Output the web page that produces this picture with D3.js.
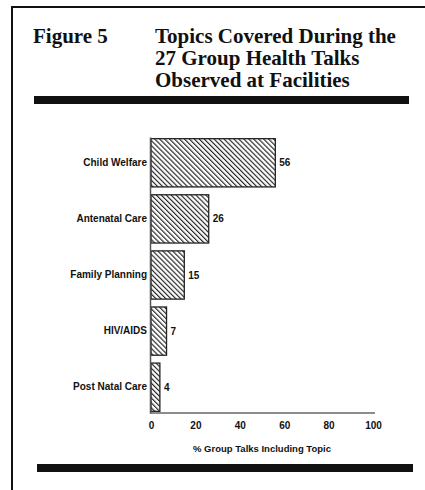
<!DOCTYPE html>
<html>
<head>
<meta charset="utf-8">
<script src="https://cdn.jsdelivr.net/npm/d3@7"></script>
<style>
  body { margin: 0; background: #fff; }
  .title { font-family: "Liberation Serif", "Times New Roman", serif; font-weight: bold; font-size: 21px; fill: #111; }
  .lbl { font-family: "Liberation Sans", Arial, sans-serif; font-weight: bold; font-size: 10px; fill: #111; }
  .axis text { font-family: "Liberation Sans", Arial, sans-serif; font-weight: bold; font-size: 10px; fill: #111; }
</style>
</head>
<body>
<div id="chart"></div>
<script>
// data
let topics = ["Child Welfare", "Antenatal Care", "Family Planning", "HIV/AIDS", "Post Natal Care"]
let percents = [56, 26, 15, 7, 4]
let xTicks = [0, 20, 40, 60, 80, 100]
let titleLines = ["Topics Covered During the", "27 Group Health Talks", "Observed at Facilities"]
let xLabel = "% Group Talks Including Topic"

let data = topics.map(function(t, i) { return {key: t, value: percents[i]} })

let W = 425, H = 490
let svg = d3.select("#chart").append("svg")
  .attr("width", W)
  .attr("height", H)

// hatch pattern
let pat = svg.append("defs").append("pattern")
  .attr("id", "hatch")
  .attr("patternUnits", "userSpaceOnUse")
  .attr("width", 3.5)
  .attr("height", 3.5)
  .attr("patternTransform", "rotate(-45)")
pat.append("rect").attr("width", 3.5).attr("height", 3.5).attr("fill", "#fff")
pat.append("line")
  .attr("x1", 0).attr("y1", 0).attr("x2", 0).attr("y2", 3.5)
  .attr("stroke", "#222").attr("stroke-width", 2.3)

// frame (only top + left visible in the scan)
svg.append("path")
  .attr("d", "M12,490 L12,7 L425,7")
  .attr("fill", "none")
  .attr("stroke", "#111")
  .attr("stroke-width", 2)

// heading
svg.append("text").attr("class", "title")
  .attr("x", 33).attr("y", 43)
  .text("Figure 5")
svg.selectAll(".tline").data(titleLines).enter().append("text")
  .attr("class", "title tline")
  .attr("x", 155)
  .attr("y", function(d, i) { return 43 + i * 22 })
  .text(function(d) { return d })

// thick rules
svg.append("rect").attr("x", 34).attr("y", 96).attr("width", 375).attr("height", 8).attr("fill", "#111")
svg.append("rect").attr("x", 37).attr("y", 464).attr("width", 376).attr("height", 8).attr("fill", "#111")

// SCALES
let xScale = d3.scaleLinear()
  .domain([0, 100])
  .range([151, 373])

let yScale = d3.scaleBand()
  .domain(topics)
  .range([137, 413])
  .paddingInner(0.14)
  .paddingOuter(0.03)

// bars
svg.selectAll(".bar")
  .data(data)
  .enter().append("rect")
  .attr("class", "bar")
  .attr("x", xScale(0))
  .attr("y", function(d) { return yScale(d.key) })
  .attr("width", function(d) { return xScale(d.value) - xScale(0) })
  .attr("height", yScale.bandwidth())
  .attr("fill", "url(#hatch)")
  .attr("stroke", "#222")
  .attr("stroke-width", 1.3)

// value labels
svg.selectAll(".val")
  .data(data)
  .enter().append("text")
  .attr("class", "lbl val")
  .attr("x", function(d) { return xScale(d.value) + 4 })
  .attr("y", function(d) { return yScale(d.key) + yScale.bandwidth() / 2 })
  .attr("dy", "0.35em")
  .text(function(d) { return d.value })

// AXES
let xAxis = d3.axisBottom(xScale)
  .tickValues(xTicks)
  .tickSize(0)
  .tickPadding(9)
  .tickFormat(function(d) { return d })

svg.append("g")
  .attr("class", "x axis")
  .attr("transform", "translate(0,413)")
  .call(xAxis)
  .call(function(g) {
    g.select(".domain").attr("stroke", "#666").attr("stroke-width", 1.5)
      .attr("d", "M" + (xScale(0) - 1) + ",0H" + (xScale(100) + 2))
  })

let yAxis = d3.axisLeft(yScale)
  .tickSize(0)
  .tickPadding(3)

svg.append("g")
  .attr("class", "y axis")
  .attr("transform", "translate(150,0)")
  .call(yAxis)
  .call(function(g) {
    g.select(".domain").attr("stroke", "#555").attr("stroke-width", 1.5)
  })

svg.append("text")
  .attr("class", "lbl")
  .attr("x", 262)
  .attr("y", 449)
  .attr("dy", "0.35em")
  .attr("text-anchor", "middle")
  .style("font-size", "9.5px")
  .text(xLabel)
</script>
</body>
</html>
